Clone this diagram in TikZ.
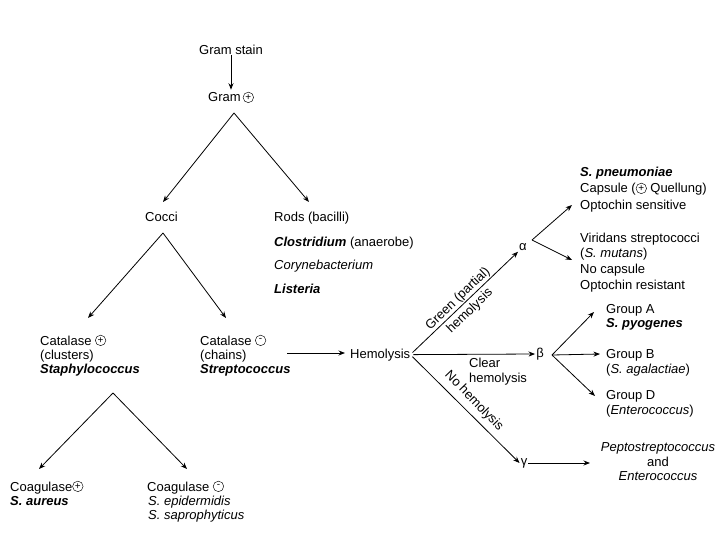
\documentclass[tikz,border=0pt]{standalone}
\usepackage{fontspec}
\setmainfont{Liberation Sans}
\usetikzlibrary{arrows.meta}
\newcommand\cpl[1]{\tikz[baseline=-4.6pt]\node[draw,circle,inner sep=0pt,minimum size=10.5pt,line width=0.45pt,anchor=center,font=\fontsize{10}{10}\selectfont]{#1};}
\begin{document}
\begin{tikzpicture}[x=1pt,y=-1pt,
  txt/.style={anchor=base west,inner sep=0pt,font=\fontsize{13}{15}\selectfont},
  ctxt/.style={anchor=base,inner sep=0pt,font=\fontsize{13}{15}\selectfont},
  lbl/.style={inner sep=0pt,align=center,font=\fontsize{13}{15}\selectfont},
  arr/.style={line width=0.8pt,-{Stealth[length=6.5pt,width=5pt]}}]
\useasboundingbox (0,0) rectangle (720,540);

% top
\node[ctxt] (gs) at (231,55) {Gram stain};
\node[ctxt] (gp) at (231,102) {Gram\,\cpl{+}};
\draw[arr] (gs.south) -- ([yshift=2pt]gs.south |- gp.north);

\coordinate (a1) at (234,113);
\coordinate (c1) at (163,202);
\coordinate (r1) at (309,202);
\draw[arr] (a1) -- (c1);
\draw[arr] (a1) -- (r1);

\node[txt] (cocci) at (145,222) {Cocci};
\node[txt] (rods) at (274,222) {Rods (bacilli)};
\node[txt] (clos) at (274,246) {\textbf{\textit{Clostridium}} (anaerobe)};
\node[txt] (cory) at (274,269) {\textit{Corynebacterium}};
\node[txt] (list) at (274,293) {\textbf{\textit{Listeria}}};

% cocci split
\coordinate (a2) at (163,233);
\coordinate (t2l) at (88,318);
\coordinate (t2r) at (226,318);
\draw[arr] (a2) -- (t2l);
\draw[arr] (a2) -- (t2r);

\node[txt] (cat1) at (40,345) {Catalase \cpl{+}};
\node[txt] (clu) at (40,359) {(clusters)};
\node[txt] (sta) at (40,373) {\textbf{\textit{Staphylococcus}}};
\node[txt] (cat2) at (200,345) {Catalase \cpl{-}};
\node[txt] (cha) at (200,359) {(chains)};
\node[txt] (str) at (200,373) {\textbf{\textit{Streptococcus}}};

\node[txt] (hemo) at (350,358) {Hemolysis};
\coordinate (s3) at (287,353);
\draw[arr,shorten >=5pt] (s3) -- (s3 -| hemo.west);

% staph split
\coordinate (a4) at (113,393);
\coordinate (t4l) at (39,469);
\coordinate (t4r) at (187,469);
\draw[arr] (a4) -- (t4l);
\draw[arr] (a4) -- (t4r);

\node[txt] (coa1) at (10,491) {Coagulase\cpl{+}};
\node[txt] (aur) at (10,505) {\textbf{\textit{S. aureus}}};
\node[txt] (coa2) at (147,491) {Coagulase \cpl{-}};
\node[txt] (epi) at (148,505) {\textit{S. epidermidis}};
\node[txt] (sap) at (148,519) {\textit{S. saprophyticus}};

% hemolysis types
\node[lbl,inner sep=1pt] (alpha) at (523,247) {α};
\node[lbl,inner sep=1pt] (beta) at (540,354) {β};
\node[lbl,inner sep=1pt] (gamma) at (524,463) {γ};
\draw[arr,shorten <=3pt] (hemo.east) -- (alpha.south west);
\draw[arr,shorten <=3pt] (hemo.east) -- (beta.west);
\draw[arr,shorten <=3pt] (hemo.east) -- (gamma.west);

\node[lbl,rotate=44,font=\fontsize{13}{17}\selectfont] (gl) at (464,305) {Green (partial)\\hemolysis};
\node[txt] (cl1) at (469,367) {Clear};
\node[txt] (cl2) at (469,382) {hemolysis};
\node[lbl,rotate=-46] (nl) at (474,401) {No hemolysis};

% alpha
\coordinate (aa) at (532,240);
\coordinate (ta1) at (572,205);
\coordinate (ta2) at (572,260);
\draw[arr] (aa) -- (ta1);
\draw[arr] (aa) -- (ta2);
\node[txt] (pn) at (580,177) {\textbf{\textit{S. pneumoniae}}};
\node[txt] (cap) at (580,193) {Capsule (\cpl{+} Quellung)};
\node[txt] (ops) at (580,210) {Optochin sensitive};
\node[txt] (vir) at (580,242) {Viridans streptococci};
\node[txt] (mut) at (580,257) {(\textit{S. mutans})};
\node[txt] (noc) at (580,273) {No capsule};
\node[txt] (opr) at (580,289) {Optochin resistant};

% beta
\coordinate (bb) at (552,355);
\coordinate (tb1) at (594,312);
\coordinate (tb2) at (600,354);
\coordinate (tb3) at (595,396);
\draw[arr] (bb) -- (tb1);
\draw[arr] (bb) -- (tb2);
\draw[arr] (bb) -- (tb3);
\node[txt] (ga) at (606,313) {Group A};
\node[txt] (pyo) at (606,327) {\textbf{\textit{S. pyogenes}}};
\node[txt] (gb) at (606,358) {Group B};
\node[txt] (aga) at (606,373) {(\textit{S. agalactiae})};
\node[txt] (gd) at (606,399) {Group D};
\node[txt] (ent) at (606,414) {(\textit{Enterococcus})};

% gamma
\coordinate (tg) at (590,463);
\draw[arr] (gamma.east) -- (tg);
\node[ctxt] (pep) at (658,451) {\textit{Peptostreptococcus}};
\node[ctxt] (and) at (658,466) {and};
\node[ctxt] (ent2) at (658,480) {\textit{Enterococcus}};
\end{tikzpicture}
\end{document}
